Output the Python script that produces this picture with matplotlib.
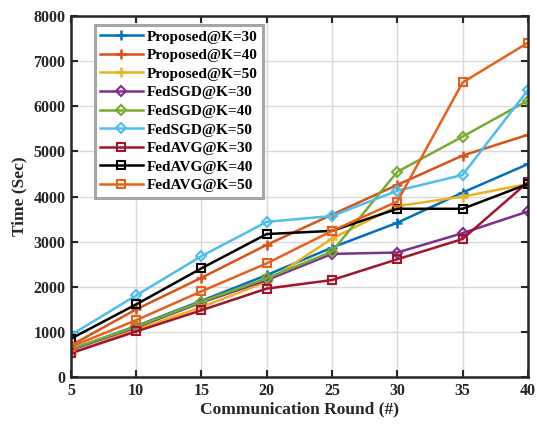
import matplotlib
matplotlib.use("Agg")
import matplotlib.pyplot as plt

rounds = [5, 10, 15, 20, 25, 30, 35, 40]

proposed_k30 = [610, 1130, 1690, 2260, 2870, 3420, 4090, 4720]
proposed_k40 = [700, 1500, 2200, 2930, 3600, 4260, 4910, 5370]
proposed_k50 = [520, 1050, 1550, 2110, 3070, 3790, 4000, 4280]
fedsgd_k30 = [600, 1100, 1650, 2150, 2730, 2760, 3190, 3670]
fedsgd_k40 = [620, 1120, 1670, 2190, 2780, 4550, 5330, 6130]
fedsgd_k50 = [930, 1810, 2680, 3440, 3570, 4130, 4480, 6360]
fedavg_k30 = [530, 1010, 1480, 1960, 2150, 2610, 3060, 4320]
fedavg_k40 = [850, 1610, 2410, 3170, 3240, 3730, 3730, 4280]
fedavg_k50 = [670, 1260, 1900, 2520, 3240, 3890, 6530, 7410]

labels = ["Proposed@K=30", "Proposed@K=40", "Proposed@K=50",
          "FedSGD@K=30", "FedSGD@K=40", "FedSGD@K=50",
          "FedAVG@K=30", "FedAVG@K=40", "FedAVG@K=50"]
series = [proposed_k30, proposed_k40, proposed_k50,
          fedsgd_k30, fedsgd_k40, fedsgd_k50,
          fedavg_k30, fedavg_k40, fedavg_k50]
colors = ["#0072BD", "#D95319", "#EDB120",
          "#7E2F8E", "#77AC30", "#4DBEEE",
          "#A2142F", "#000000", "#E8601C"]
markers = ["+"] * 3 + ["D"] * 3 + ["s"] * 3

plt.rcParams["font.family"] = ["Liberation Serif", "DejaVu Serif"]
plt.rcParams["font.weight"] = "bold"

fig = plt.figure(figsize=(5.37, 4.26), dpi=100)
ax = fig.add_axes([0.132, 0.115, 0.851, 0.847])

for y, lab, c, m in zip(series, labels, colors, markers):
    if m == "+":
        ax.plot(rounds, y, color=c, lw=1.8, marker=m, ms=7, mew=1.8, label=lab)
    else:
        ax.plot(rounds, y, color=c, lw=1.8, marker=m, ms=5 if m == "D" else 6,
                mew=1.5, mfc="none", label=lab)

ax.set_xlim(5, 40)
ax.set_ylim(0, 8000)
ax.set_xticks(rounds)
ax.set_yticks(range(0, 8001, 1000))
ax.grid(True, color="#d9d9d9", lw=1)
ax.set_axisbelow(True)
ax.tick_params(direction="in", top=True, right=True, length=5, width=1.5,
               labelsize=11.5, colors="#262626", pad=4)
for t in ax.get_xticklabels() + ax.get_yticklabels():
    t.set_fontweight("bold")
for s in ax.spines.values():
    s.set_linewidth(1.8)
    s.set_color("#262626")

ax.set_xlabel("Communication Round (#)", fontsize=12.5, fontweight="bold", color="#262626", labelpad=2)
ax.set_ylabel("Time (Sec)", fontsize=12.5, fontweight="bold", color="#262626", labelpad=4)

leg = ax.legend(loc="upper left", bbox_to_anchor=(0.035, 0.998),
                prop={"weight": "bold", "size": 11}, frameon=True, fancybox=False,
                handlelength=2.8, labelspacing=0.32, borderpad=0.35, handletextpad=0.3,
                framealpha=1)
leg.get_frame().set_edgecolor("#a6a6a6")
leg.get_frame().set_linewidth(2.2)

fig.savefig("out.png", dpi=100)
